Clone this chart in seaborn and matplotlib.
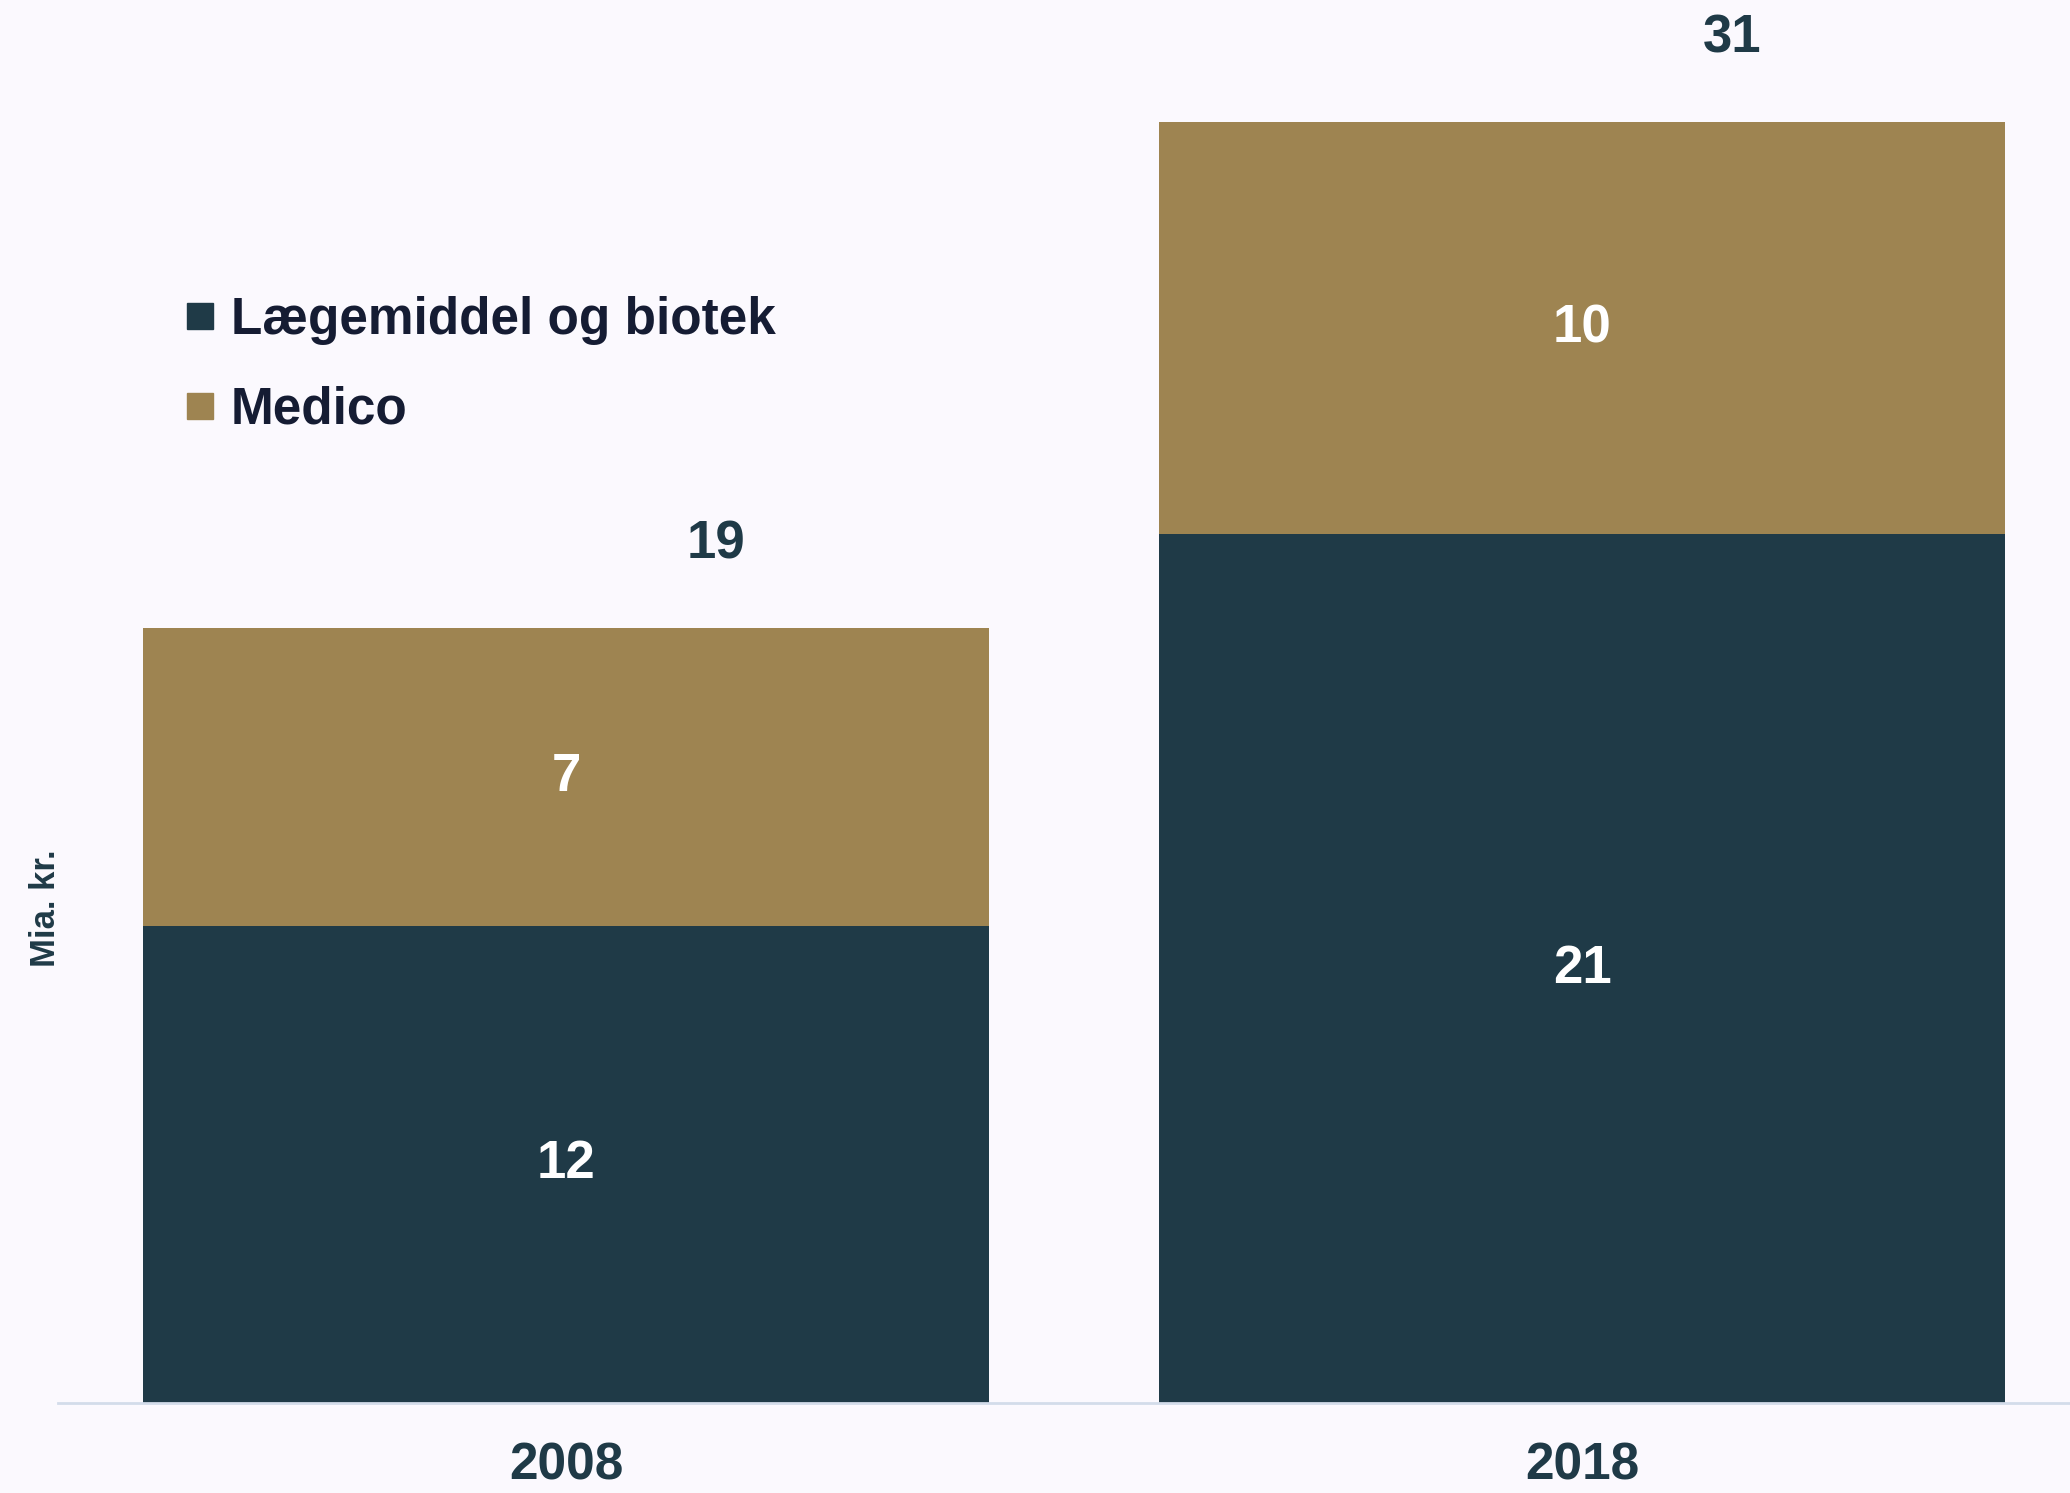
import numpy as np
import pandas as pd
import seaborn as sns
import matplotlib.pyplot as plt
from matplotlib.lines import Line2D

# data (mia. kr.)
years = ["2008", "2018"]
laegemiddel = [11.7, 21.3]
medico = [7.3, 10.1]
series_names = ["Lægemiddel og biotek", "Medico"]

dark = "#1f3a47"
gold = "#9e8451"
bg = "#fbf9fe"
txt = "#151c33"

totals = [a + b for a, b in zip(laegemiddel, medico)]
df = pd.DataFrame({"year": years, "laeg": laegemiddel, "medico": medico, "total": totals})

sns.set_theme(style="white")
plt.rcParams["font.family"] = ["Liberation Sans", "DejaVu Sans"]

fig = plt.figure(figsize=(20.7, 14.93), dpi=100, facecolor=bg)
ax = fig.add_axes([0.028, 0.0603, 0.972, 0.9397], facecolor=bg)

bw = 0.833
sns.barplot(data=df, x="year", y="total", color=gold, width=bw, saturation=1,
            linewidth=0, ax=ax)
sns.barplot(data=df, x="year", y="laeg", color=dark, width=bw, saturation=1,
            linewidth=0, ax=ax)

ax.set_xlim(-0.5, 1.48)
ax.set_ylim(0, 34.4)

# segment labels
for i in range(len(years)):
    ax.text(i, laegemiddel[i] / 2, f"{laegemiddel[i]:.0f}", ha="center", va="center",
            color="white", fontsize=38, fontweight="bold")
    ax.text(i, laegemiddel[i] + medico[i] / 2, f"{medico[i]:.0f}", ha="center", va="center",
            color="white", fontsize=38, fontweight="bold")
    ax.text(i + 0.148, totals[i] + 2.05, f"{totals[i]:.0f}", ha="center", va="center",
            color=dark, fontsize=38, fontweight="bold")

for s in ["top", "right", "left"]:
    ax.spines[s].set_visible(False)
ax.spines["bottom"].set_color("#d3dcea")
ax.spines["bottom"].set_linewidth(2)
ax.set_yticks([])
ax.set_xlabel("")
ax.set_ylabel("")
ax.tick_params(axis="x", length=0, pad=28)
for lab in ax.get_xticklabels():
    lab.set_fontweight("bold")
    lab.set_fontsize(37)
    lab.set_color(dark)

fig.text(0.0222, 0.392, "Mia. kr.", rotation=90, ha="center", va="center",
         fontsize=25, fontweight="bold", color=dark)

handles = [Line2D([], [], marker="s", linestyle="", markersize=19, color=c)
           for c in [dark, gold]]
leg = ax.legend(handles, series_names, loc="upper left", bbox_to_anchor=(0.05, 0.807),
                frameon=False, borderpad=0, handlelength=0.6, handletextpad=0.3,
                labelspacing=0.78,
                prop={"weight": "bold", "size": 37})
for t in leg.get_texts():
    t.set_color(txt)

fig.savefig("out.png", dpi=100, facecolor=bg)
